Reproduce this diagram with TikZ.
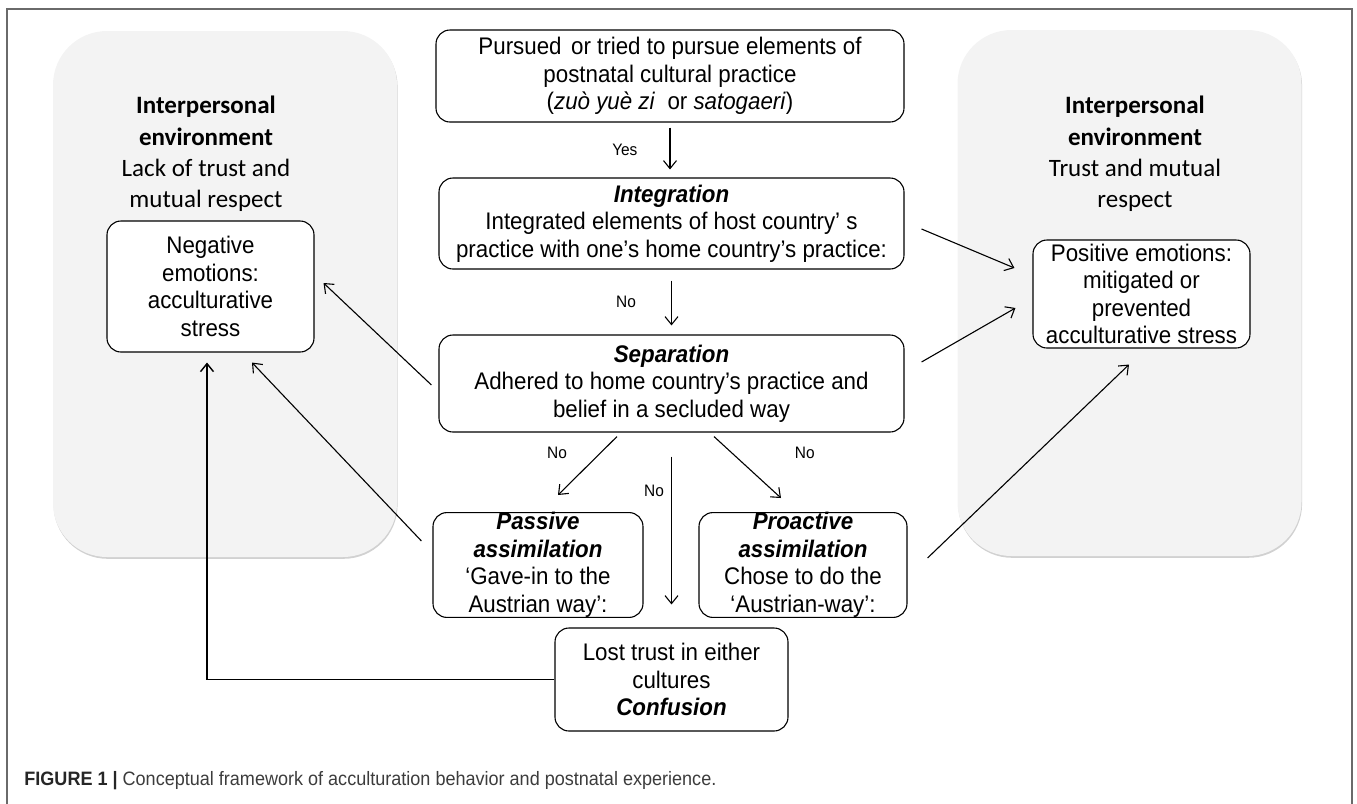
\documentclass[tikz,border=0pt]{standalone}
\usepackage{fontspec}
\setmainfont[FakeStretch=0.93]{Liberation Sans}
\newfontfamily\calfont{Carlito}
\usetikzlibrary{arrows.meta,shadows}
\definecolor{panelgray}{HTML}{F3F3F3}
\definecolor{framegray}{HTML}{6A6A6A}
\definecolor{captiongray}{HTML}{3C3C3C}

\begin{document}
\begin{tikzpicture}[
    x=0.5pt, y=-0.5pt,
    every node/.style={inner sep=0pt, align=center},
    box/.style={draw, rounded corners=7pt, fill=white, line width=0.55pt, font=\fontsize{12}{13.75}\selectfont},
    panel/.style={fill=panelgray, rounded corners=27pt, minimum width=172pt, minimum height=263pt,
        drop shadow={shadow xshift=0.3pt, shadow yshift=-0.9pt, fill=black!18, opacity=1}},
    envtext/.style={font=\calfont\fontsize{12.5}{15.7}\selectfont},
    lab/.style={font=\fontsize{8.3}{10}\selectfont},
    arrow/.style={-{Straight Barb[length=4pt,width=6.5pt]}, line width=0.55pt}
]
\useasboundingbox (0,0) rectangle (1357,804);
\draw[framegray, line width=1pt] (7,804) -- (7,9) -- (1352,9) -- (1352,804);

% environments
\node[panel] (leftenv) at (225,294) {};
\node[panel] (rightenv) at (1129.5,293) {};
\node[envtext] (lefttext) at (206,154) {\textbf{Interpersonal}\\\textbf{environment}\\Lack of trust and\\mutual respect};
\node[envtext] (righttext) at (1135,154) {\textbf{Interpersonal}\\\textbf{environment}\\Trust and mutual\\respect};

% boxes
\node[box, minimum width=234pt, minimum height=46pt] (top) at (670,76)
    {Pursued\hspace{0.4em}or tried to pursue elements of\\postnatal cultural practice\\(\textit{zuò yuè zi}\ \ or \textit{satogaeri})};
\node[box, minimum width=232.5pt, minimum height=45.5pt] (integ) at (671.5,223.5)
    {\textbf{\textit{Integration}}\\Integrated elements of host country’ s\\practice with one’s home country’s practice:};
\node[box, minimum width=232.5pt, minimum height=48.5pt] (sep) at (671.5,383.5)
    {\textbf{\textit{Separation}}\\Adhered to home country’s practice and\\belief in a secluded way};
\node[box, minimum width=105pt, minimum height=47pt] (pass) at (538,565)
    {\textbf{\textit{Passive}}\\\textbf{\textit{assimilation}}\\‘Gave-in to the\\Austrian way’:};
\node[box, minimum width=104pt, minimum height=47pt] (proa) at (803,565)
    {\textbf{\textit{Proactive}}\\\textbf{\textit{assimilation}}\\Chose to do the\\‘Austrian-way’:};
\node[box, minimum width=116.5pt, minimum height=51.5pt] (conf) at (671.5,679.5)
    {Lost trust in either\\cultures\\\textbf{\textit{Confusion}}};
\node[box, minimum width=103.5pt, minimum height=65.5pt] (neg) at (210.5,286.5)
    {Negative\\emotions:\\acculturative\\stress};
\node[box, minimum width=108.5pt, minimum height=54pt] (pos) at (1141.5,294)
    {Positive emotions:\\mitigated or\\prevented\\acculturative stress};

% flow
\draw[arrow, shorten <=2.5pt, shorten >=4pt] (top.south) -- node[lab, left=16pt] {Yes} (top.south |- integ.north);
\draw[arrow, shorten <=5.5pt, shorten >=4.5pt] (integ.south) -- node[lab, left=17.5pt] {No} (integ.south |- sep.north);
\draw[arrow, shorten <=12pt, shorten >=11.5pt] (sep.south) -- node[lab, pos=0.3, left=3.5pt] {No} (sep.south |- conf.north);
\draw[arrow] ([xshift=-27.25pt,yshift=-2pt]sep.south) -- node[lab, pos=0.28, left=16.5pt] {No} ([xshift=10pt,yshift=8.5pt]pass.north);
\draw[arrow] ([xshift=21.25pt,yshift=-2pt]sep.south) -- node[lab, pos=0.26, right=31.5pt] {No} ([xshift=-11pt,yshift=7pt]proa.north);

% to the environments
\draw[arrow] ([xshift=-3.5pt,yshift=-0.75pt]sep.west) -- ([xshift=4.5pt,yshift=1.75pt]neg.east);
\draw[arrow] ([xshift=-5.5pt,yshift=12pt]pass.west) -- ([xshift=20.75pt,yshift=-5pt]neg.south);
\draw[arrow, line width=0.7pt] (conf.west) -| ([xshift=-1.75pt,yshift=-5pt]neg.south);
\draw[arrow] ([xshift=8.5pt,yshift=-2.75pt]integ.east) -- ([xshift=-9pt,yshift=13pt]pos.west);
\draw[arrow] ([xshift=8.5pt,yshift=10.75pt]sep.east) -- ([xshift=-8.5pt,yshift=-7pt]pos.west);
\draw[arrow] ([xshift=10pt,yshift=3.5pt]proa.east) -- ([xshift=-6.25pt,yshift=-8pt]pos.south);

\node[anchor=base west, font=\fontsize{9.7}{11}\selectfont, text=captiongray] (caption) at (24,785)
    {\textbf{\color{black!85}FIGURE 1 |} Conceptual framework of acculturation behavior and postnatal experience.};
\end{tikzpicture}
\end{document}
